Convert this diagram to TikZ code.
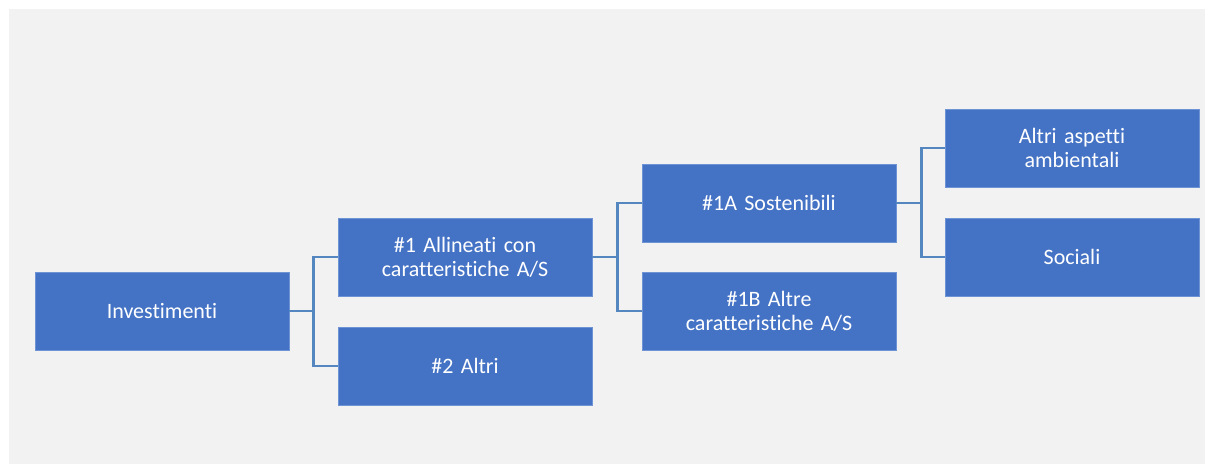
\documentclass[tikz,border=0pt]{standalone}
\usepackage{fontspec}
\setmainfont[Ligatures=NoCommon, WordSpace=0.7]{Carlito}
\definecolor{boxblue}{RGB}{68, 114, 196}
\definecolor{boxedge}{RGB}{110, 148, 214}
\definecolor{linkblue}{RGB}{84, 135, 192}
\definecolor{bggray}{RGB}{242, 242, 242}
\usetikzlibrary{positioning}
\tikzset{
  kind/.style={draw=boxedge, line width=0.8pt, fill=boxblue, text=white, minimum width=254pt, minimum height=78pt, text width=240pt, align=center, inner sep=0pt, font=\fontsize{22}{24}\selectfont},
  link/.style={draw=linkblue, line width=2.6pt}
}

\begin{document}
\begin{tikzpicture}[x=1pt, y=-1pt]
  \useasboundingbox (0,0) rectangle (1205,464);
  \fill[bggray] (9,9) rectangle (1205,464);

  % Boxes
  \node[kind] (inv) at (162, 311) {Investimenti};
  \node[kind] (all) at (465, 257) {\#1 Allineati con\\caratteristiche A/S};
  \node[kind] (oth) at (465, 366) {\#2 Altri};
  \node[kind] (sus) at (769, 203) {\#1A Sostenibili};
  \node[kind] (car) at (769, 311) {\#1B Altre\\caratteristiche A/S};
  \node[kind] (env) at (1072, 148) {Altri aspetti\\ambientali};
  \node[kind] (soc) at (1072, 257) {Sociali};

  % Links
  \draw[link] (inv.east) -- ++(24,0) |- (all.west);
  \draw[link] (inv.east) -- ++(24,0) |- (oth.west);
  \draw[link] (all.east) -- ++(25,0) |- (sus.west);
  \draw[link] (all.east) -- ++(25,0) |- (car.west);
  \draw[link] (sus.east) -- ++(25,0) |- (env.west);
  \draw[link] (sus.east) -- ++(25,0) |- (soc.west);
\end{tikzpicture}
\end{document}
